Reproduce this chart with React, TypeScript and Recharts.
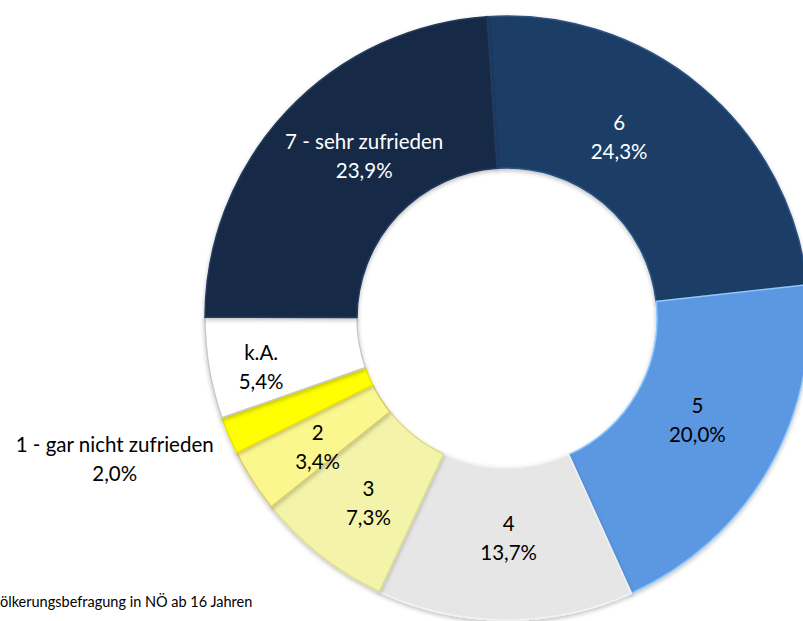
import { Cell, Pie, PieChart } from 'recharts'

const categories = ['6', '5', '4', '3', '2', '1 - gar nicht zufrieden', 'k.A.', '7 - sehr zufrieden']
const shares = [24.3, 20.0, 13.7, 7.3, 3.4, 2.0, 5.4, 23.9]
const sourceNote = 'ölkerungsbefragung in NÖ ab 16 Jahren'

const fills = ['#1f3e66', '#5c97e1', '#e6e6e6', '#f3f3a9', '#fbf78f', '#ffff00', '#ffffff', '#192b47']
const strokes = ['#2c5283', '#8cc6ff', '#f2f2f2', '#dcdc8c', '#d9c973', '#e6e600', '#c8c8c8', '#233a5c']
const labelColors = ['#ffffff', '#000000', '#000000', '#000000', '#000000', '#000000', '#000000', '#ffffff']

// small shifts to mimic the spreadsheet's label placement
const nudges: Record<string, [number, number]> = {
  '6': [-33, -8],
  '5': [-6, -10],
  '4': [3, -6],
  '3': [1, 7],
  '2': [1, 7],
  'k.A.': [-23, 11],
  '7 - sehr zufrieden': [22, -7],
}

const data = categories.map((name, i) => ({ name, value: shares[i] }))
const RAD = Math.PI / 180
const FONT = 'Lato, "Open Sans", sans-serif'

function renderLabel(props: any) {
  const { cx, cy, midAngle, innerRadius, outerRadius, index } = props
  const name = categories[index]
  const pct = shares[index].toFixed(1).replace('.', ',') + '%'
  let x: number
  let y: number
  if (name.startsWith('1 ')) {
    const r = outerRadius + 12
    x = cx + r * Math.cos(-midAngle * RAD) - 103
    y = cy + r * Math.sin(-midAngle * RAD) + 19
  } else {
    const r = (innerRadius + outerRadius) / 2
    const [dx, dy] = nudges[name] ?? [0, 0]
    x = cx + r * Math.cos(-midAngle * RAD) + dx
    y = cy + r * Math.sin(-midAngle * RAD) + dy
  }
  return (
    <text x={x} y={y} textAnchor="middle" fill={labelColors[index]} fontFamily={FONT} fontSize={20.5}>
      <tspan x={x} dy={-7}>{name}</tspan>
      <tspan x={x} dy={29}>{pct}</tspan>
    </text>
  )
}

export default function App() {
  return (
    <div style={{ position: 'absolute', left: 0, top: 0, width: 803, height: 621, background: '#fff' }}>
      <PieChart width={803} height={621} margin={{ top: 0, right: 0, bottom: 0, left: 0 }}>
        <defs>
          <filter id="shade" x="-10%" y="-10%" width="120%" height="120%">
            <feDropShadow dx="0" dy="2" stdDeviation="2" floodColor="#000" floodOpacity="0.25" />
          </filter>
        </defs>
        <Pie
          data={data}
          dataKey="value"
          nameKey="name"
          cx={507}
          cy={318}
          innerRadius={150}
          outerRadius={302}
          startAngle={93.8}
          endAngle={93.8 - 360}
          label={renderLabel}
          labelLine={false}
          isAnimationActive={false}
          style={{ filter: 'url(#shade)' }}
        >
          {data.map((d, i) => (
            <Cell key={d.name} fill={fills[i]} stroke={strokes[i]} strokeWidth={1.5} />
          ))}
        </Pie>
        <text x={0} y={607} fontFamily={FONT} fontSize={14.5} fill="#000">
          {sourceNote}
        </text>
      </PieChart>
    </div>
  )
}
